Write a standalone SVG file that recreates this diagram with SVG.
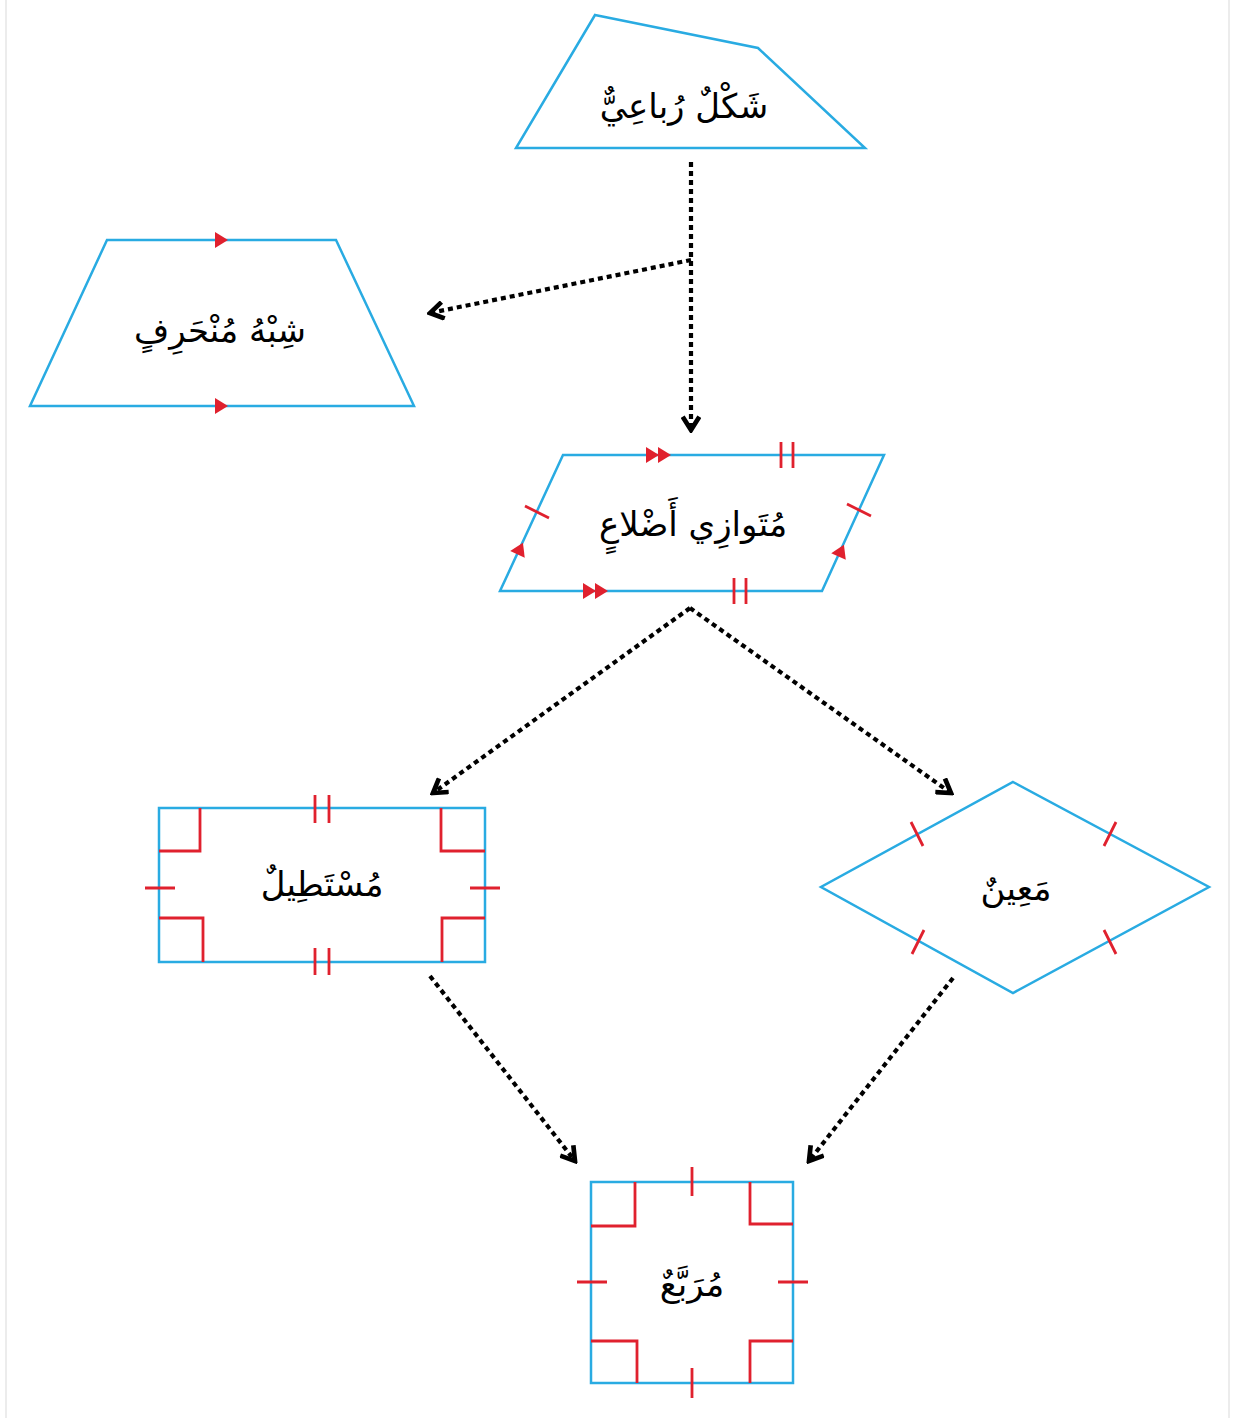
<svg xmlns="http://www.w3.org/2000/svg" width="1234" height="1418" viewBox="0 0 1234 1418">
<defs>
<style>
.shape{fill:none;stroke:#29abe2;stroke-width:2.5;stroke-linejoin:miter}
.mark{fill:none;stroke:#e0212e;stroke-width:2.8}
.arr{fill:#e0212e;stroke:none}
.conn{fill:none;stroke:#000;stroke-width:4.2;stroke-dasharray:5 4}
.lbl{font-family:"DejaVu Sans",sans-serif;font-size:34px;fill:#000;text-anchor:middle}
</style>
<marker id="chev" viewBox="0 0 12 12" refX="10" refY="6" markerWidth="20" markerHeight="20" markerUnits="userSpaceOnUse" orient="auto">
<path d="M2,1 L10,6 L2,11" fill="none" stroke="#000" stroke-width="2.8" stroke-linejoin="miter"/>
</marker>
<path id="tri" d="M-6,-8 L7,0 L-6,8 Z"/>
</defs>
<rect width="1234" height="1418" fill="#fff"/>
<line x1="6" y1="0" x2="6" y2="1418" stroke="#e6e6e6" stroke-width="1.5"/>
<line x1="1229" y1="0" x2="1229" y2="1418" stroke="#e6e6e6" stroke-width="1.5"/>

<g id="connectors">
<path class="conn" d="M691,162 L691,430" marker-end="url(#chev)"/>
<path class="conn" d="M691,260 L430,313" marker-end="url(#chev)"/>
<path class="conn" d="M690,608 L433,793" marker-end="url(#chev)"/>
<path class="conn" d="M690,608 L951,793" marker-end="url(#chev)"/>
<path class="conn" d="M430,976 L575,1161" marker-end="url(#chev)"/>
<path class="conn" d="M953,978 L809,1161" marker-end="url(#chev)"/>
</g>

<g id="quadrilateral">
<polygon class="shape" points="595,15 758,48 865,148 516,148"/>
<text class="lbl" x="684" y="118">شَكْلٌ رُباعِيٌّ</text>
</g>

<g id="trapezoid">
<polygon class="shape" points="107,240 336,240 414,406 30,406"/>
<use href="#tri" class="arr" transform="translate(221,240)"/>
<use href="#tri" class="arr" transform="translate(221,406)"/>
<text class="lbl" x="220" y="342">شِبْهُ مُنْحَرِفٍ</text>
</g>

<g id="parallelogram">
<polygon class="shape" points="563,455 884,455 822,591 500,591"/>
<use href="#tri" class="arr" transform="translate(652,455)"/>
<use href="#tri" class="arr" transform="translate(664,455)"/>
<use href="#tri" class="arr" transform="translate(589,591)"/>
<use href="#tri" class="arr" transform="translate(601,591)"/>
<use href="#tri" class="arr" transform="translate(520,549) rotate(-65.1)"/>
<use href="#tri" class="arr" transform="translate(841,551) rotate(-65.5)"/>
<path class="mark" d="M781,442 V468 M793,442 V468 M734,578 V604 M746,578 V604"/>
<path class="mark" d="M525,506 L549,518 M847,504 L871,516"/>
<text class="lbl" x="693" y="536">مُتَوازِي أَضْلاعٍ</text>
</g>

<g id="rectangle">
<rect class="shape" x="159" y="808" width="326" height="154"/>
<path class="mark" d="M200,808 V851 H159 M441,808 V851 H485 M159,918 H203 V962 M485,918 H442 V962"/>
<path class="mark" d="M315,795 V823 M329,795 V823 M315,948 V975 M329,948 V975 M145,888 H175 M470,888 H500"/>
<text class="lbl" x="322" y="896">مُسْتَطِيلٌ</text>
</g>

<g id="rhombus">
<polygon class="shape" points="1013,782 1209,887 1013,993 821,887"/>
<path class="mark" d="M911,822 L923,846 M1116,822 L1104,846 M924,930 L912,954 M1104,930 L1116,954"/>
<text class="lbl" x="1016" y="900">مَعِينٌ</text>
</g>

<g id="square">
<rect class="shape" x="591" y="1182" width="202" height="201"/>
<path class="mark" d="M635,1182 V1226 H591 M750,1182 V1224 H793 M591,1341 H637 V1383 M793,1341 H750 V1383"/>
<path class="mark" d="M692,1167 V1196 M692,1368 V1398 M577,1282 H607 M778,1282 H808"/>
<text class="lbl" x="692" y="1296">مُرَبَّعٌ</text>
</g>
</svg>
